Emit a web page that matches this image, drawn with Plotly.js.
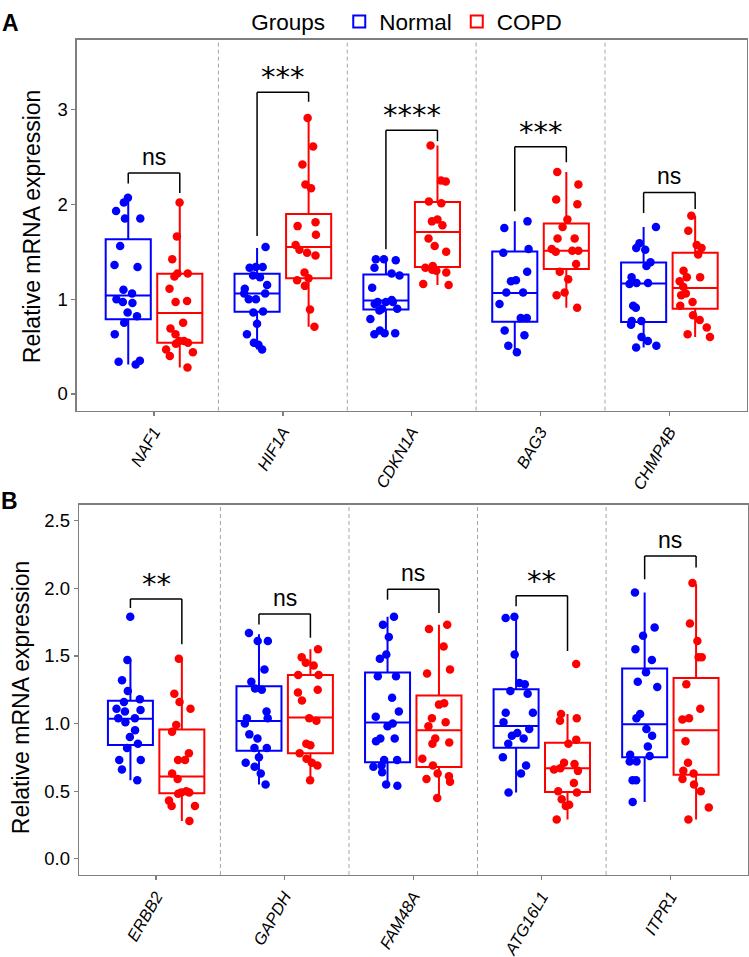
<!DOCTYPE html>
<html><head><meta charset="utf-8">
<script src="https://cdn.plot.ly/plotly-3.0.1.min.js"></script>
<style>body{margin:0;background:#fff}</style>
</head><body>
<div id="chart" style="width:749px;height:957px"></div>
<script>
// ---------- categories ----------
const genesA = ['NAF1','HIF1A','CDKN1A','BAG3','CHMP4B'];
const genesB = ['ERBB2','GAPDH','FAM48A','ATG16L1','ITPR1'];
const groups = ['Normal','COPD'];

// ---------- sample points ----------
const normalA = [
  [2.07,2.02,1.93,1.85,1.85,1.56,1.36,1.34,1.10,1.06,1.00,0.97,0.96,0.86,0.82,0.75,0.63,0.34,0.35,0.31],
  [1.55,1.25,1.34,1.33,1.34,1.23,1.15,1.11,1.06,1.06,1.00,1.00,0.87,0.86,0.74,0.63,0.54,0.52,0.47],
  [1.42,1.42,1.41,1.33,1.27,1.25,1.12,0.99,0.97,0.97,0.97,0.95,0.90,0.90,0.88,0.79,0.67,0.64,0.64,0.63],
  [1.82,1.75,1.53,1.49,1.29,1.20,1.19,1.07,1.07,0.95,0.80,0.80,0.67,0.62,0.51,0.44],
  [1.76,1.59,1.54,1.52,1.39,1.35,1.23,1.17,1.17,1.16,0.93,0.91,0.77,0.77,0.73,0.60,0.56,0.51,0.49]
];
const copdA = [
  [2.02,1.66,1.42,1.24,1.27,1.27,1.11,0.97,0.98,0.63,0.75,0.69,0.56,0.53,0.47,0.40,0.44,0.28,0.56,0.54],
  [2.91,2.61,2.42,2.21,2.17,1.81,1.77,1.68,1.57,1.52,1.49,1.46,1.28,1.22,1.20,1.14,0.89,0.71],
  [2.62,2.25,2.24,2.03,2.01,1.84,1.82,1.78,1.64,1.56,1.50,1.28,1.30,1.35,1.31,1.33,1.16,1.15],
  [2.34,2.21,2.05,2.00,1.84,1.76,1.64,1.64,1.53,1.51,1.50,1.51,1.37,1.29,1.21,1.07,1.04,0.91],
  [1.88,1.72,1.57,1.54,1.47,1.30,1.23,1.23,1.19,1.13,1.06,1.04,0.97,0.93,0.83,0.78,0.70,0.63,0.60]
];
const normalB = [
  [1.79,1.47,1.32,1.24,1.18,1.16,1.11,1.10,1.09,1.04,1.04,1.01,0.95,0.90,0.85,0.82,0.73,0.73,0.66,0.58],
  [1.67,1.61,1.61,1.40,1.31,1.25,1.26,1.09,1.04,1.04,1.00,0.89,0.92,0.82,0.82,0.75,0.71,0.68,0.63,0.55],
  [1.79,1.73,1.64,1.48,1.51,1.35,1.35,1.19,1.09,1.05,1.00,0.98,0.89,0.89,0.87,0.73,0.73,0.69,0.68,0.64,0.55,0.54],
  [1.78,1.79,1.51,1.30,1.29,1.24,1.22,1.08,1.08,1.01,0.96,0.91,0.93,0.89,0.85,0.75,0.69,0.63,0.49],
  [1.97,1.71,1.65,1.55,1.47,1.38,1.31,1.27,1.07,1.04,0.96,0.91,0.83,0.76,0.77,0.72,0.72,0.58,0.58,0.42]
];
const copdB = [
  [1.48,1.22,1.16,1.11,0.99,0.94,0.78,0.73,0.73,0.59,0.63,0.48,0.50,0.49,0.49,0.43,0.39,0.39,0.28],
  [1.55,1.45,1.49,1.43,1.36,1.36,1.25,1.23,1.17,1.04,1.02,0.84,0.85,0.78,0.71,0.69,0.74,0.58],
  [1.73,1.70,1.57,1.40,1.37,1.14,1.15,1.04,1.01,0.98,0.89,0.86,0.85,0.74,0.69,0.63,0.61,0.59,0.57,0.45],
  [1.44,1.07,1.04,1.02,0.85,0.88,0.71,0.66,0.67,0.70,0.65,0.56,0.50,0.49,0.44,0.40,0.39,0.29],
  [2.04,1.74,1.61,1.49,1.49,1.29,1.11,1.04,1.03,0.87,0.71,0.63,0.65,0.59,0.55,0.50,0.38,0.29]
];

// ---------- box statistics ----------
const normalA_q1  = [0.787,0.868,0.892,0.763,0.760];
const normalA_med = [1.038,1.059,0.986,1.066,1.164];
const normalA_q3  = [1.631,1.268,1.261,1.502,1.387];
const normalA_lo  = [0.31,0.47,0.63,0.44,0.49];
const normalA_hi  = [2.07,1.54,1.42,1.82,1.76];
const copdA_q1  = [0.540,1.220,1.338,1.317,0.899];
const copdA_med = [0.854,1.551,1.707,1.509,1.118];
const copdA_q3  = [1.268,1.899,2.024,1.798,1.488];
const copdA_lo  = [0.28,0.71,1.15,0.91,0.60];
const copdA_hi  = [2.02,2.91,2.62,2.34,1.88];
const normalB_q1  = [0.841,0.799,0.714,0.821,0.750];
const normalB_med = [1.036,1.019,1.007,0.982,0.995];
const normalB_q3  = [1.168,1.276,1.378,1.254,1.408];
const normalB_lo  = [0.58,0.55,0.54,0.49,0.42];
const normalB_hi  = [1.47,1.66,1.79,1.78,1.97];
const copdB_q1  = [0.484,0.780,0.679,0.494,0.621];
const copdB_med = [0.609,1.044,0.951,0.670,0.951];
const copdB_q3  = [0.956,1.359,1.207,0.858,1.337];
const copdB_lo  = [0.28,0.58,0.45,0.29,0.29];
const copdB_hi  = [1.48,1.55,1.73,1.07,2.03];

// ---------- significance brackets: [left leg end, top, right leg end] ----------
const bracketA = [[2.22,2.33,2.12],[1.665,3.18,3.08],[1.526,2.78,2.666],[1.927,2.606,2.443],[1.909,2.125,1.951]];
const labelA = ['ns','***','****','***','ns'];
const bracketB = [[1.855,1.921,1.586],[1.733,1.811,1.635],[1.916,1.994,1.818],[1.867,1.945,1.537],[2.067,2.239,2.155]];
const labelB = ['**','ns','ns','**','ns'];

const BLUE = '#0000FF', RED = '#FF0000';
const FONT = 'Liberation Sans, Arial, Helvetica, sans-serif';

function statTrace(genes, q1, med, q3, lo, hi, name, color, og, ag, xa, ya, legend){
  return {type:'box', x:genes, q1:q1, median:med, q3:q3, lowerfence:lo, upperfence:hi,
    name:name, legendgroup:name, showlegend:legend, boxpoints:false,
    line:{color:color, width:2}, fillcolor:'rgba(255,255,255,0)', whiskerwidth:0,
    offsetgroup:og, alignmentgroup:ag, xaxis:xa, yaxis:ya, hoverinfo:'skip'};
}
function pointTrace(genes, samples, name, color, og, ag, xa, ya){
  const xs = [], ys = [];
  samples.forEach((arr,i)=>arr.forEach(v=>{xs.push(genes[i]); ys.push(v);}));
  return {type:'box', x:xs, y:ys, name:name, legendgroup:name, showlegend:false,
    boxpoints:'all', jitter:0.75, pointpos:0,
    marker:{color:color, size:8.5, line:{width:0}},
    line:{color:'rgba(0,0,0,0)', width:0}, fillcolor:'rgba(0,0,0,0)', whiskerwidth:0,
    offsetgroup:og, alignmentgroup:ag, xaxis:xa, yaxis:ya, hoverinfo:'skip'};
}

const data = [
  statTrace(genesA, normalA_q1, normalA_med, normalA_q3, normalA_lo, normalA_hi, groups[0], BLUE, 'N', 'A', 'x', 'y', true),
  statTrace(genesA, copdA_q1, copdA_med, copdA_q3, copdA_lo, copdA_hi, groups[1], RED, 'C', 'A', 'x', 'y', true),
  pointTrace(genesA, normalA, groups[0], BLUE, 'N', 'A', 'x', 'y'),
  pointTrace(genesA, copdA, groups[1], RED, 'C', 'A', 'x', 'y'),
  statTrace(genesB, normalB_q1, normalB_med, normalB_q3, normalB_lo, normalB_hi, groups[0], BLUE, 'N', 'B', 'x2', 'y2', false),
  statTrace(genesB, copdB_q1, copdB_med, copdB_q3, copdB_lo, copdB_hi, groups[1], RED, 'C', 'B', 'x2', 'y2', false),
  pointTrace(genesB, normalB, groups[0], BLUE, 'N', 'B', 'x2', 'y2'),
  pointTrace(genesB, copdB, groups[1], RED, 'C', 'B', 'x2', 'y2')
];

const shapes = [], annotations = [];
function addPanel(xa, ya, brackets, labels){
  for (let k=0;k<4;k++){
    shapes.push({type:'line', xref:xa, yref:ya+' domain', x0:k+0.5, x1:k+0.5, y0:0, y1:1,
      line:{color:'#a6a6a6', width:1, dash:'4px,3px'}, layer:'below'});
  }
  brackets.forEach((b,i)=>{
    const xl=i-0.2, xr=i+0.2;
    const ln={color:'#000', width:1.5};
    shapes.push({type:'line', xref:xa, yref:ya, x0:xl, x1:xl, y0:b[0], y1:b[1], line:ln});
    shapes.push({type:'line', xref:xa, yref:ya, x0:xl, x1:xr, y0:b[1], y1:b[1], line:ln});
    shapes.push({type:'line', xref:xa, yref:ya, x0:xr, x1:xr, y0:b[1], y1:b[2], line:ln});
    const star = labels[i] !== 'ns';
    annotations.push({xref:xa, yref:ya, x:i, y:b[1], text:labels[i], showarrow:false,
      yanchor:'bottom', yshift: star ? -4 : 1,
      font: star ? {family:'DejaVu Sans, sans-serif', size:29, color:'#000'} : {family:FONT, size:23, color:'#000'}});
  });
}
addPanel('x','y',bracketA,labelA);
addPanel('x2','y2',bracketB,labelB);

annotations.push({xref:'paper', yref:'paper', x:32/749, y:(957-220)/957, text:'Relative mRNA expression',
  textangle:-90, showarrow:false, xanchor:'center', yanchor:'middle', font:{family:FONT, size:23, color:'#000'}});
annotations.push({xref:'paper', yref:'paper', x:21/749, y:(957-695)/957, text:'Relative mRNA expression',
  textangle:-90, showarrow:false, xanchor:'center', yanchor:'middle', font:{family:FONT, size:23, color:'#000'}});
annotations.push({xref:'paper', yref:'paper', x:10.5/749, y:(957-15)/957, text:'<b>A</b>', showarrow:false,
  xanchor:'center', yanchor:'middle', font:{family:FONT, size:23, color:'#000'}});
annotations.push({xref:'paper', yref:'paper', x:9.5/749, y:(957-497.5)/957, text:'<b>B</b>', showarrow:false,
  xanchor:'center', yanchor:'middle', font:{family:FONT, size:23, color:'#000'}});

const axLine = {showline:true, mirror:true, linecolor:'#7f7f7f', linewidth:1.3, ticks:'outside', ticklen:4,
  tickcolor:'#7f7f7f', tickwidth:1.3, showgrid:false, zeroline:false, automargin:false};

const layout = {
  width:749, height:957, margin:{l:0,r:0,t:0,b:0},
  paper_bgcolor:'#fff', plot_bgcolor:'#fff',
  font:{family:FONT, color:'#000'},
  boxmode:'group', boxgap:0.2, boxgroupgap:0.125,
  xaxis: Object.assign({}, axLine, {domain:[76.7/749, 746.7/749], anchor:'y', type:'category',
    categoryorder:'array', categoryarray:genesA, range:[-0.6,4.6], tickangle:-60,
    tickfont:{family:FONT, size:16.5, style:'italic', color:'#000'}}),
  yaxis: Object.assign({}, axLine, {domain:[(957-406)/957, (957-32)/957], anchor:'x',
    range:[-0.175,3.735], tickvals:[0,1,2,3], tickfont:{family:FONT, size:18.5, color:'#000'}}),
  xaxis2: Object.assign({}, axLine, {domain:[79/749, 747.5/749], anchor:'y2', type:'category',
    categoryorder:'array', categoryarray:genesB, range:[-0.6,4.6], tickangle:-60,
    tickfont:{family:FONT, size:16.5, style:'italic', color:'#000'}}),
  yaxis2: Object.assign({}, axLine, {domain:[(957-874.3)/957, (957-500.7)/957], anchor:'x2',
    range:[-0.12,2.62], tickvals:[0,0.5,1,1.5,2,2.5], tickformat:'.1f', tickfont:{family:FONT, size:18.5, color:'#000'}}),
  legend:{orientation:'h', x:0.545, xanchor:'center', y:(957-14)/957, yanchor:'middle',
    title:{text:'Groups ', side:'left', font:{family:FONT, size:22.5, color:'#000'}},
    font:{family:FONT, size:22.5, color:'#000'}, bgcolor:'rgba(0,0,0,0)', itemwidth:30, traceorder:'normal'},
  shapes:shapes, annotations:annotations
};

Plotly.newPlot('chart', data, layout, {staticPlot:true, displayModeBar:false});
</script>
</body></html>
